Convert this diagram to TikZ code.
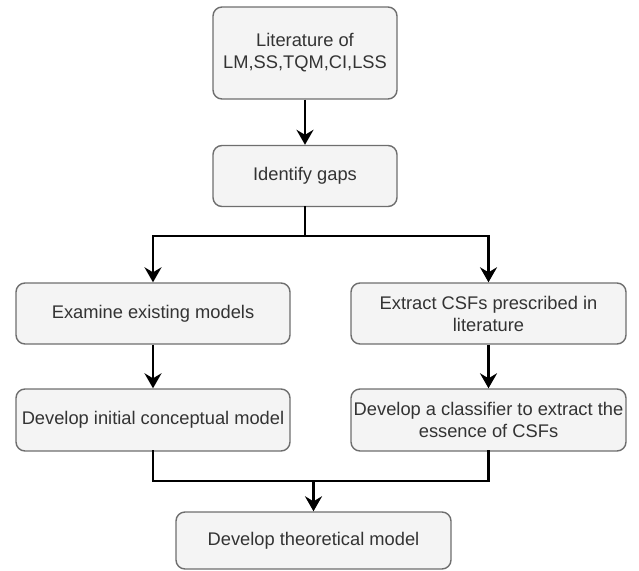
\documentclass[tikz,border=0pt]{standalone}
\usepackage{fontspec}
\setmainfont{Liberation Sans}
\usetikzlibrary{arrows.meta}
\definecolor{boxfill}{HTML}{F4F4F4}
\definecolor{boxline}{HTML}{6E6E6E}
\definecolor{txt}{HTML}{333333}
\tikzset{
  stepbox/.style={draw=boxline, line width=1.4pt, fill=boxfill, rounded corners=9pt,
    text=txt, align=center, inner sep=1pt,
    font=\fontsize{18.3}{22}\selectfont},
  flow/.style={line width=2.8pt, line cap=rect},
  arr/.style={flow, line cap=butt, -{Stealth[length=15pt,width=17pt,inset=5pt]}},
}
\begin{document}
\begin{tikzpicture}[x=1pt,y=-1pt]
  \useasboundingbox (0,0) rectangle (639,570);

  \node[stepbox, minimum width=184pt, minimum height=92pt] (lit) at (305,53)
    {Literature of\\LM,SS,TQM,CI,LSS};
  \node[stepbox, minimum width=184pt, minimum height=61pt] (gaps) at (305,176)
    {Identify gaps};
  \node[stepbox, minimum width=274pt, minimum height=61pt] (exam) at (153,313.5)
    {Examine existing models};
  \node[stepbox, minimum width=275pt, minimum height=61pt] (extr) at (488.5,313.5)
    {Extract CSFs prescribed in\\literature};
  \node[stepbox, minimum width=274pt, minimum height=62pt] (init) at (153,420)
    {Develop initial conceptual model};
  \node[stepbox, minimum width=275pt, minimum height=62pt] (cls) at (488.5,420)
    {Develop a classifier to extract the\\essence of CSFs};
  \node[stepbox, minimum width=275pt, minimum height=57pt] (theo) at (313.5,540.5)
    {Develop theoretical model};

  \coordinate (split) at (305,236);
  \coordinate (merge) at (313.5,481);

  \draw[arr] (lit) -- (gaps);
  \draw[flow] (gaps) -- (split);
  \draw[arr] (split) -| (exam);
  \draw[arr] (split) -| (extr);
  \draw[arr] (exam) -- (init);
  \draw[arr] (extr) -- (cls);
  \draw[flow] (init) |- (merge) -| (cls);
  \draw[arr] (merge) -- (theo);
\end{tikzpicture}
\end{document}
